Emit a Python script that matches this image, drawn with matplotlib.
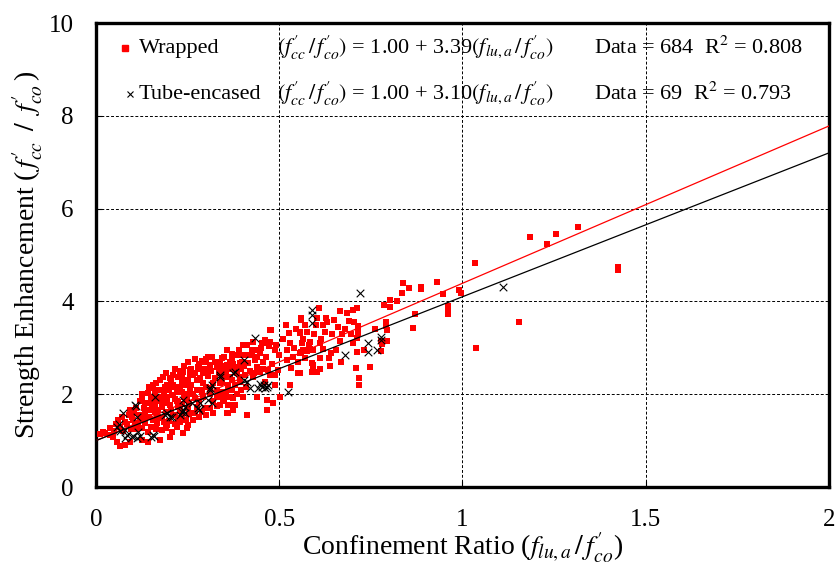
import numpy as np
import matplotlib
matplotlib.use("Agg")
import matplotlib.pyplot as plt

plt.rcParams['font.family'] = ['Liberation Serif', 'DejaVu Serif']
plt.rcParams['mathtext.fontset'] = 'stix'

############################################################################
###            DATA                                ###
############################################################################
# Wrapped columns (red squares), (confinement ratio, strength enhancement)
wrapped_pts = [
    # sparse / high confinement
    (0.930, 4.42), (0.947, 4.16), (0.990, 4.25), (0.996, 4.18), (0.961, 3.90), (0.961, 3.79), (0.961, 3.73),
    (1.034, 4.83), (1.037, 3.00), (1.154, 3.56), (1.184, 5.39), (1.231, 5.24), (1.255, 5.45), (1.315, 5.60),
    (1.424, 4.74), (1.424, 4.68),
    (0.837, 4.40), (0.835, 4.18), (0.854, 4.29), (0.886, 4.31), (0.886, 4.27), (0.802, 4.03), (0.821, 4.01),
    (0.786, 3.92), (0.802, 3.88), (0.870, 3.73), (0.865, 3.43), (0.791, 3.56), (0.794, 3.38), (0.791, 3.47),
    (0.778, 3.15), (0.780, 3.08), (0.778, 2.93), (0.794, 3.15), (0.761, 3.40), (0.748, 2.59), (0.731, 2.95),
    (0.712, 2.91), (0.712, 3.21), (0.701, 3.10), (0.715, 3.47), (0.715, 3.43), (0.715, 3.37), (0.715, 3.33),
    (0.704, 3.56), (0.690, 3.58), (0.701, 3.81), (0.712, 3.86), (0.666, 3.79), (0.671, 3.30), (0.709, 2.56),
    (0.717, 2.35), (0.717, 2.20),
    # 0.55 - 0.65
    (0.608, 3.86), (0.603, 3.64), (0.628, 3.64), (0.619, 3.49), (0.570, 3.49), (0.559, 3.60), (0.557, 3.34),
    (0.611, 3.10), (0.619, 2.97), (0.611, 2.78), (0.641, 2.89), (0.636, 2.78), (0.584, 2.97), (0.576, 2.93),
    (0.565, 2.95), (0.559, 2.91), (0.592, 2.63), (0.592, 2.52), (0.590, 2.48), (0.611, 2.54), (0.557, 2.46),
    # 0.33 - 0.6
    (0.518, 3.49), (0.527, 3.32), (0.557, 3.32), (0.559, 3.64), (0.477, 3.38), (0.461, 3.17), (0.453, 3.10),
    (0.467, 3.10), (0.475, 3.13), (0.472, 3.03), (0.428, 3.13), (0.401, 3.06), (0.439, 2.95), (0.447, 2.89),
    (0.425, 2.84), (0.434, 2.74), (0.415, 2.67), (0.393, 2.67), (0.374, 2.84), (0.371, 2.74), (0.385, 2.59),
    (0.357, 2.63), (0.347, 2.48), (0.366, 2.37), (0.344, 2.26), (0.360, 2.20), (0.393, 2.26), (0.407, 2.41),
    (0.428, 2.37), (0.439, 2.59), (0.456, 2.69), (0.447, 2.48), (0.469, 2.52), (0.475, 2.41), (0.461, 2.26),
    (0.551, 2.46), (0.532, 2.56), (0.521, 2.74), (0.538, 2.80), (0.557, 2.89), (0.540, 3.00), (0.562, 3.10),
    (0.584, 3.13), (0.592, 2.95), (0.589, 2.67), (0.592, 2.56), (0.603, 2.48), (0.570, 2.78), (0.529, 2.20),
    (0.488, 2.20), (0.488, 2.41), (0.497, 2.52), (0.439, 1.94), (0.467, 1.88), (0.502, 1.94), (0.366, 1.77),
    (0.347, 1.88), (0.338, 2.05), (0.475, 3.38), (0.488, 2.95), (0.467, 1.66), (0.483, 1.81),
    # 0.15 - 0.42
    (0.412, 3.06), (0.371, 2.87), (0.388, 2.84), (0.366, 2.69), (0.344, 2.78), (0.316, 2.80), (0.297, 2.69),
    (0.311, 2.63), (0.330, 2.59), (0.352, 2.59), (0.379, 2.52), (0.393, 2.37), (0.360, 2.37), (0.278, 2.59),
    (0.256, 2.52), (0.237, 2.48), (0.265, 2.41), (0.292, 2.46), (0.224, 2.37), (0.202, 2.35), (0.183, 2.37),
    (0.156, 2.20), (0.166, 2.09), (0.188, 2.16), (0.210, 2.20), (0.235, 2.26), (0.251, 2.31), (0.276, 2.31),
    (0.292, 2.24), (0.325, 2.35), (0.338, 2.24), (0.360, 2.16), (0.379, 2.20), (0.311, 2.13), (0.284, 2.09),
    (0.256, 2.13), (0.235, 2.05), (0.210, 1.98), (0.188, 1.92), (0.166, 1.88), (0.153, 1.77), (0.180, 1.72),
    (0.202, 1.77), (0.224, 1.83), (0.248, 1.88), (0.270, 1.92), (0.292, 1.94), (0.330, 1.94), (0.352, 1.98),
    (0.374, 1.92), (0.338, 1.77), (0.360, 1.77), (0.379, 1.77), (0.374, 1.66), (0.360, 1.59), (0.251, 1.70),
    (0.229, 1.66), (0.276, 1.72), (0.297, 1.70), (0.216, 1.55), (0.166, 1.55), (0.412, 1.55), (0.319, 1.59),
    (0.401, 2.84), (0.398, 2.69), (0.357, 2.95), (0.338, 2.69), (0.306, 2.52), (0.357, 1.59),
    # 0.0 - 0.27
    (0.210, 2.41), (0.235, 2.35), (0.256, 2.41), (0.243, 2.20), (0.216, 2.16), (0.194, 2.20), (0.156, 2.13),
    (0.142, 2.03), (0.126, 1.92), (0.134, 1.81), (0.153, 1.83), (0.180, 1.83), (0.207, 1.98), (0.256, 2.09),
    (0.262, 1.59), (0.224, 1.49), (0.180, 1.49), (0.161, 1.62), (0.134, 1.59), (0.093, 1.66), (0.098, 1.51),
    (0.079, 1.40), (0.060, 1.44), (0.106, 1.38), (0.134, 1.38), (0.166, 1.38), (0.194, 1.34), (0.221, 1.29),
    (0.248, 1.27), (0.180, 1.23), (0.207, 1.19), (0.142, 1.19), (0.126, 1.27), (0.038, 1.27), (0.025, 1.16),
    (0.046, 1.08), (0.057, 0.97), (0.066, 0.88), (0.079, 0.91), (0.093, 0.97), (0.126, 1.01), (0.142, 0.97),
    (0.175, 1.01), (0.202, 1.08), (0.237, 1.16), (0.251, 1.34), (0.038, 1.12), (0.019, 1.19), (0.010, 1.15),
    # dense core
    (0.110, 1.70), (0.120, 1.55), (0.130, 1.70), (0.145, 1.50), (0.150, 1.95), (0.160, 1.75), (0.170, 1.65),
    (0.175, 1.95), (0.185, 2.05), (0.190, 1.62), (0.195, 1.80), (0.200, 2.10), (0.205, 1.65), (0.215, 1.90),
    (0.220, 2.05), (0.225, 1.72), (0.230, 2.15), (0.235, 1.78), (0.240, 1.95), (0.245, 2.30), (0.250, 2.00),
    (0.255, 1.82), (0.260, 2.20), (0.265, 2.00), (0.270, 2.45), (0.275, 2.10), (0.280, 1.85), (0.285, 2.35),
    (0.290, 2.05), (0.295, 2.55), (0.300, 2.15), (0.305, 2.40), (0.310, 2.00), (0.315, 2.50), (0.320, 2.25),
    (0.325, 2.70), (0.330, 2.10), (0.335, 2.45), (0.340, 2.60), (0.345, 2.35), (0.350, 2.80), (0.355, 2.50),
    (0.365, 2.55), (0.370, 2.30), (0.375, 2.65), (0.385, 2.45), (0.390, 2.95), (0.395, 2.55), (0.405, 2.60),
    (0.410, 2.85), (0.420, 2.50), (0.425, 2.95), (0.430, 2.45), (0.440, 2.80), (0.450, 3.00), (0.455, 2.55),
    (0.465, 2.80), (0.480, 2.65), (0.490, 3.05), (0.500, 2.85), (0.510, 3.20), (0.520, 2.95), (0.530, 3.10),
    (0.545, 3.40), (0.550, 2.70), (0.565, 3.20), (0.575, 3.35), (0.580, 3.05), (0.595, 3.30), (0.600, 3.50),
    (0.615, 3.20), (0.625, 3.35), (0.630, 3.55), (0.645, 3.30), (0.650, 3.60), (0.660, 3.45), (0.665, 3.15),
    (0.680, 3.40), (0.685, 3.75), (0.695, 3.30), (0.640, 2.60), (0.655, 2.95), (0.670, 2.70),
    (0.110, 1.25), (0.120, 1.45), (0.140, 1.65), (0.150, 1.30), (0.155, 1.45), (0.165, 1.25), (0.170, 1.50),
    (0.185, 1.40), (0.190, 1.28), (0.200, 1.42), (0.210, 1.55), (0.215, 1.35), (0.230, 1.40), (0.235, 1.52),
    (0.245, 1.45), (0.255, 1.58), (0.265, 1.45), (0.270, 1.60), (0.280, 1.50), (0.290, 1.62), (0.300, 1.55),
    (0.310, 1.70), (0.320, 1.85), (0.330, 1.75), (0.340, 1.95), (0.350, 1.85), (0.355, 2.05), (0.365, 1.95),
    (0.370, 2.10), (0.385, 2.00), (0.395, 2.10), (0.400, 1.95), (0.410, 2.15),
    (0.050, 1.20), (0.055, 1.35), (0.065, 1.30), (0.070, 1.50), (0.075, 1.20), (0.085, 1.35), (0.090, 1.55),
    (0.095, 1.25), (0.100, 1.45), (0.105, 1.60), (0.115, 1.35), (0.120, 1.85), (0.125, 2.00), (0.130, 1.50),
    (0.140, 1.80), (0.145, 2.15), (0.150, 1.65), (0.160, 2.00), (0.165, 2.25), (0.170, 1.85), (0.175, 2.30),
    (0.180, 2.10), (0.190, 2.45), (0.195, 1.95), (0.205, 2.30), (0.215, 2.55), (0.220, 1.85), (0.228, 2.50),
    (0.240, 2.60), (0.250, 2.70), (0.260, 2.55), (0.270, 2.75), (0.280, 2.65), (0.290, 2.72), (0.300, 2.75),
    (0.305, 2.80), (0.285, 2.55),
]

# Tube-encased columns (black crosses)
tube_pts = [
    (0.057, 1.29), (0.074, 1.59), (0.079, 1.23), (0.085, 1.12), (0.079, 1.06), (0.098, 1.08), (0.112, 1.06),
    (0.115, 1.19), (0.106, 1.77), (0.109, 1.74), (0.112, 1.51), (0.156, 1.12), (0.159, 1.10), (0.161, 1.94),
    (0.188, 1.55), (0.194, 1.59), (0.202, 1.51), (0.207, 1.51), (0.237, 1.66), (0.243, 1.59), (0.237, 1.88),
    (0.243, 1.72), (0.235, 1.62), (0.262, 1.81), (0.278, 1.70), (0.282, 1.66), (0.284, 1.81), (0.306, 1.88),
    (0.316, 1.81), (0.311, 2.09), (0.311, 2.13), (0.316, 2.20), (0.338, 2.37), (0.338, 2.41), (0.374, 2.46),
    (0.379, 2.48), (0.404, 2.31), (0.404, 2.74), (0.412, 2.26), (0.420, 2.13), (0.434, 3.21), (0.442, 2.13),
    (0.448, 2.22), (0.453, 2.16), (0.458, 2.20), (0.462, 2.13), (0.467, 2.16), (0.470, 2.20), (0.524, 2.05),
    (0.589, 3.81), (0.589, 3.71), (0.589, 3.53), (0.679, 2.84), (0.720, 4.18), (0.742, 3.10), (0.742, 2.91),
    (0.767, 2.95), (0.778, 3.17), (0.778, 3.23), (1.110, 4.31), (0.065, 1.20), (0.100, 1.10), (0.120, 1.10),
    (0.150, 1.08), (0.230, 1.55), (0.062, 1.35),
]

# Regression lines  y = a + b*x
wrapped_fit = (1.00, 3.39)
tube_fit = (1.00, 3.10)
wrapped_count, wrapped_r2 = 684, 0.808
tube_count, tube_r2 = 69, 0.793

x_ticks = [0, 0.5, 1, 1.5, 2]
x_tick_labels = ["0", "0.5", "1", "1.5", "2"]
y_ticks = [0, 2, 4, 6, 8, 10]

###################################################
###                 PLOT                        ###
###################################################
fig = plt.figure(figsize=(8.37, 5.76), dpi=100)
ax = fig.add_axes([0.1147, 0.1545, 0.8755, 0.8055])

wx, wy = np.array(wrapped_pts).T
tx, ty = np.array(tube_pts).T

ax.scatter(wx, wy, marker='s', s=16, color='red', linewidths=0, zorder=3)

xl = np.array([0, 2])
ax.plot(xl, wrapped_fit[0] + wrapped_fit[1]*xl, color='red', lw=0.9, zorder=4)
ax.plot(xl, tube_fit[0] + tube_fit[1]*xl, color='black', lw=0.9, zorder=4)

ax.scatter(tx, ty, marker='x', s=30, color='black', linewidths=0.8, zorder=5)

ax.set_xlim(0, 2)
ax.set_ylim(0, 10)
ax.set_xticks(x_ticks)
ax.set_xticklabels(x_tick_labels)
ax.set_yticks(y_ticks)

ax.grid(True, color='black', linestyle=(0, (3, 2)), linewidth=0.7)
ax.set_axisbelow(True)
for s in ax.spines.values():
    s.set_linewidth(2.4)
ax.tick_params(axis='both', direction='in', length=4, width=0.8, labelsize=18)
ax.tick_params(axis='x', pad=16)
ax.tick_params(axis='y', pad=16)

ax.set_xlabel(r"Confinement Ratio ($f_{lu,a}\,/\,f^{\prime}_{co}$)", fontsize=20, labelpad=0)
ax.set_ylabel(r"Strength Enhancement ($\,f^{\prime}_{cc}\;\;/\;\;f^{\prime}_{co}\,$)", fontsize=20, labelpad=3)

# legend written by hand (two rows)
fs = 16
eq = r"$(f^{\prime}_{cc}\,/\,f^{\prime}_{co})$ = %.2f + %.2f$(f_{lu,a}\,/\,f^{\prime}_{co})$"
ax.plot([0.080], [9.46], marker='s', ms=4, color='red', ls='none', clip_on=False)
ax.text(0.118, 9.46, "Wrapped", fontsize=fs, va='center')
ax.text(0.494, 9.46, eq % wrapped_fit, fontsize=fs, va='center')
ax.text(1.360, 9.46, "Data = %d  R$^2$ = %.3f" % (wrapped_count, wrapped_r2), fontsize=fs, va='center')

ax.plot([0.092], [8.47], marker='x', ms=5, mew=0.8, color='black', ls='none', clip_on=False)
ax.text(0.116, 8.47, "Tube-encased", fontsize=fs, va='center')
ax.text(0.494, 8.47, eq % tube_fit, fontsize=fs, va='center')
ax.text(1.360, 8.47, "Data = %d  R$^2$ = %.3f" % (tube_count, tube_r2), fontsize=fs, va='center')

plt.savefig("out.png", dpi=100)
